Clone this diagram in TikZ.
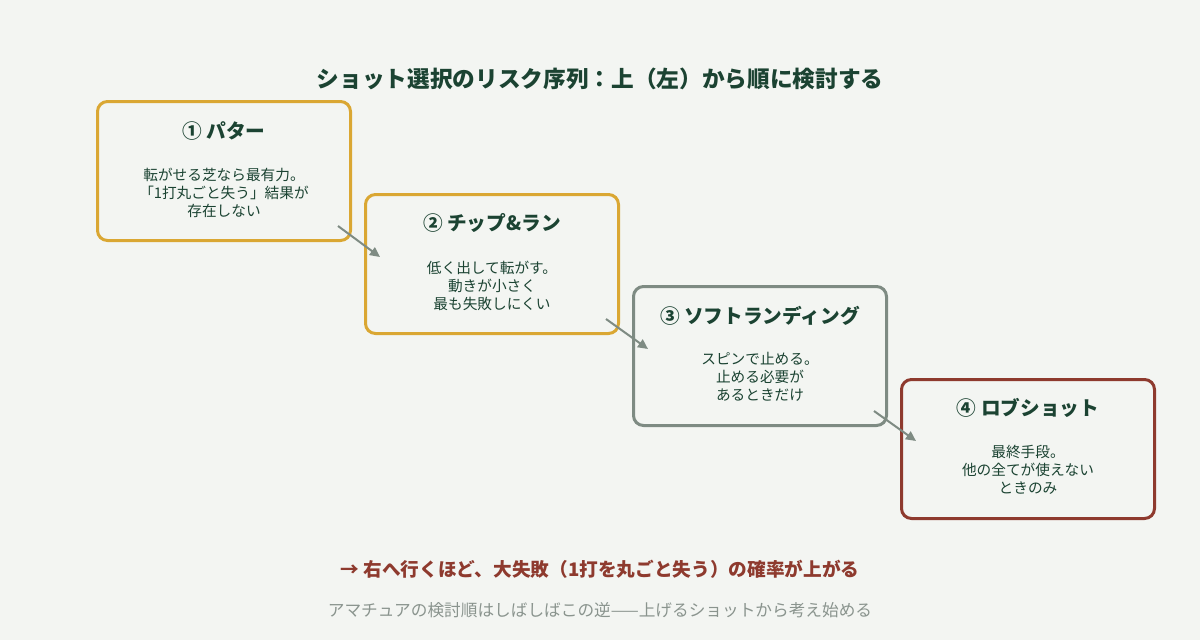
\documentclass[tikz,border=0pt]{standalone}
\usepackage{fontspec}
\setmainfont{Noto Sans CJK JP}
\usetikzlibrary{calc,arrows.meta}
\definecolor{bg}{HTML}{F3F5F2}
\definecolor{ink}{HTML}{1B4332}
\definecolor{gold}{HTML}{DAA733}
\definecolor{sage}{HTML}{7E8B83}
\definecolor{brick}{HTML}{8E3A2E}
\definecolor{mute}{HTML}{8A948E}
\tikzset{
  card/.style={draw, line width=2.25pt, rounded corners=7.5pt, fill=bg,
    minimum width=189.75pt, minimum height=104.25pt, inner sep=0pt},
  cardtitle/.style={text=ink, font=\fontsize{14.75pt}{17pt}\selectfont\bfseries},
  cardtext/.style={text=ink, align=center, font=\fontsize{11pt}{13.5pt}\selectfont},
  step arrow/.style={draw=sage, line width=1.5pt, -{Triangle[length=7.5pt,width=7pt]}}
}
\begin{document}
\begin{tikzpicture}[x=0.75pt,y=-0.75pt]
  % canvas
  \fill[bg] (0,0) rectangle (1200,640);
  \useasboundingbox (0,0) rectangle (1200,640);

  \node[text=ink, font=\fontsize{17pt}{20pt}\selectfont\bfseries] (title) at (600,79)
    {ショット選択のリスク序列：上（左）から順に検討する};

  % the four cards
  \node[card, draw=gold]  (putt) at (224,171) {};
  \node[card, draw=gold]  (chip) at (492,264) {};
  \node[card, draw=sage]  (soft) at (760,356) {};
  \node[card, draw=brick] (lob)  at (1028,449) {};

  \node[cardtitle] (tputt) at ($(putt.center)+(0,-40)$) {① パター};
  \node[cardtext]  (dputt) at ($(putt.center)+(0,22)$)
    {転がせる芝なら最有力。\\「1打丸ごと失う」結果が\\存在しない};
  \node[cardtitle] (tchip) at ($(chip.center)+(0,-41)$) {② チップ\&ラン};
  \node[cardtext]  (dchip) at ($(chip.center)+(0,22)$)
    {低く出して転がす。\\動きが小さく\\最も失敗しにくい};
  \node[cardtitle] (tsoft) at ($(soft.center)+(0,-40)$) {③ ソフトランディング};
  \node[cardtext]  (dsoft) at ($(soft.center)+(0,21)$)
    {スピンで止める。\\止める必要が\\あるときだけ};
  \node[cardtitle] (tlob)  at ($(lob.center)+(0,-41)$) {④ ロブショット};
  \node[cardtext]  (dlob)  at ($(lob.center)+(0,21)$)
    {最終手段。\\他の全てが使えない\\ときのみ};

  % arrows between cards
  \draw[step arrow] ($(putt.south east)+(-14,-16)$) -- ($(chip.west)+(16,-7)$);
  \draw[step arrow] ($(chip.south east)+(-14,-16)$) -- ($(soft.west)+(16,-7)$);
  \draw[step arrow] ($(soft.south east)+(-14,-16)$) -- ($(lob.west)+(16,-8)$);

  \node[text=brick, font=\fontsize{14pt}{16pt}\selectfont\bfseries] (risk) at (600,569)
    {→ 右へ行くほど、大失敗（1打を丸ごと失う）の確率が上がる};
  \node[text=mute, font=\fontsize{12.5pt}{14pt}\selectfont] (note) at (600,610)
    {アマチュアの検討順はしばしばこの逆——上げるショットから考え始める};
\end{tikzpicture}
\end{document}
